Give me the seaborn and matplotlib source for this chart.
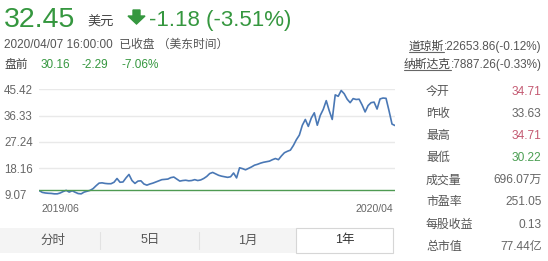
import matplotlib
matplotlib.use('Agg')
import matplotlib.pyplot as plt
import seaborn as sns
import pandas as pd
from matplotlib.patches import Rectangle, Polygon
from matplotlib.lines import Line2D

# ---------------- data ----------------
prices = [10.4, 9.8, 9.6, 9.5, 9.45, 9.3, 9.3, 9.6, 10.1, 10.5,
          9.9, 10.35, 9.85, 9.4, 9.3, 9.9, 10.2, 10.5, 11.1, 12.1,
          13.0, 13.1, 12.9, 12.8, 12.8, 13.3, 14.6, 13.3, 13.4, 14.8,
          16.0, 13.9, 12.9, 13.7, 13.8, 12.7, 12.3, 12.7, 13.0, 13.4,
          13.8, 14.2, 14.3, 14.4, 14.9, 15.1, 14.4, 13.7, 13.9, 14.0,
          13.8, 13.9, 14.2, 13.9, 14.1, 14.6, 15.3, 16.3, 16.7, 16.2,
          15.7, 15.4, 15.2, 15.0, 15.2, 16.5, 14.8, 18.3, 18.0, 17.6,
          18.1, 18.6, 19.2, 19.5, 19.9, 20.2, 20.4, 20.6, 21.1, 21.5,
          21.1, 22.4, 23.5, 24.0, 24.4, 26.0, 28.0, 29.6, 33.0, 35.0,
          32.6, 35.5, 37.3, 33.0, 36.4, 38.5, 41.5, 38.0, 35.0, 43.5,
          43.0, 45.0, 43.9, 42.0, 40.8, 42.2, 41.9, 42.0, 40.0, 37.6,
          39.8, 40.8, 41.0, 38.6, 42.1, 42.4, 42.3, 38.0, 33.4, 32.9]
baseline = 10.6
y_ticks = [9.07, 18.16, 27.24, 36.33, 45.42]
x_tick_idx = [7, 112]
x_tick_labels = ['2019/06', '2020/04']

price_text = '32.45'
currency = '美元'
change_text = '-1.18 (-3.51%)'
time_text = '2020/04/07 16:00:00  已收盘 （美东时间）'
pre_label = '盘前'
pre_values = ['30.16', '-2.29', '-7.06%']
index_names = ['道琼斯', '纳斯达克']
index_values = [':22653.86(-0.12%)', ':7887.26(-0.33%)']
stat_labels = ['今开', '昨收', '最高', '最低', '成交量', '市盈率', '每股收益', '总市值']
stat_values = ['34.71', '33.63', '34.71', '30.22', '696.07万', '251.05', '0.13', '77.44亿']
stat_colors = ['#c45a72', '#666666', '#c45a72', '#4a9e52', '#666666', '#666666', '#666666', '#666666']
tabs = ['分时', '5日', '1月', '1年']

GREEN = '#35973f'

# ---------------- figure ----------------
sns.set_theme(style='white')
plt.rcParams['font.family'] = ['Liberation Sans', 'Noto Sans CJK SC', 'DejaVu Sans']

W, H = 548, 261
fig = plt.figure(figsize=(W / 100, H / 100), dpi=100)
fig.patch.set_facecolor('white')


def fx(px):
    return px / W


def fy(py):
    return 1 - py / H


# ---------------- chart ----------------
ax = fig.add_axes([fx(39.3), fy(194.5), (395 - 39.3) / W, (194.5 - 89.3) / H])
df = pd.DataFrame({'idx': range(len(prices)), 'price': prices})
sns.lineplot(data=df, x='idx', y='price', ax=ax, color='#4a78b5', linewidth=1.2)
ax.axhline(baseline, color='#4e9a52', lw=1)
ax.set_ylim(y_ticks[0], y_ticks[-1])
ax.set_xlim(0, len(prices) - 1)
ax.set_yticks(y_ticks)
ax.set_yticklabels([f'{v:.2f}' for v in y_ticks])
ax.set_xticks(x_tick_idx)
ax.set_xticklabels(x_tick_labels)
ax.grid(axis='y', color='#e9e9e9', lw=1)
ax.grid(axis='x', visible=False)
ax.set_axisbelow(True)
for s in ax.spines.values():
    s.set_visible(False)
ax.set_facecolor('white')
ax.set_xlabel('')
ax.set_ylabel('')
ax.tick_params(axis='y', length=0, pad=25.4, labelsize=8.3, labelcolor='#666666')
for lab in ax.get_yticklabels():
    lab.set_horizontalalignment('left')
ax.tick_params(axis='x', length=0, pad=7, labelsize=7.6, labelcolor='#666666')

# ---------------- header ----------------
fig.text(fx(4), fy(27), price_text, fontsize=20.5, color=GREEN, va='baseline', ha='left')
fig.text(fx(87), fy(25.5), currency, fontsize=9.5, color='#444444', va='baseline', ha='left')
arrow = Polygon([(fx(133), fy(10)), (fx(140), fy(10)), (fx(140), fy(16)), (fx(145), fy(16)),
                 (fx(136.5), fy(24)), (fx(128), fy(16)), (fx(133), fy(16))],
                closed=True, transform=fig.transFigure, color=GREEN)
fig.patches.append(arrow)
fig.text(fx(149), fy(26), change_text, fontsize=16, color=GREEN, va='baseline', ha='left')
fig.text(fx(4), fy(48.3), time_text, fontsize=8.5, color='#555555', va='baseline', ha='left')
fig.text(fx(4), fy(68.3), pre_label, fontsize=8.5, color='#444444', va='baseline', ha='left')
for xpos, val in zip([40.7, 81.7, 121.7], pre_values):
    fig.text(fx(xpos), fy(68.3), val, fontsize=8.5, color=GREEN, va='baseline', ha='left')

# index quotes (right top)
fig.canvas.draw()
renderer = fig.canvas.get_renderer()
for i, (nm, val) in enumerate(zip(index_names, index_values)):
    yb = [50.0, 68.3][i]
    tv = fig.text(fx(541.7), fy(yb), val, fontsize=8.5, color='#555555', va='baseline', ha='right')
    bb = tv.get_window_extent(renderer)
    tn = fig.text(bb.x0 / W, fy(yb), nm, fontsize=8.5, color='#444444', va='baseline', ha='right')
    bn = tn.get_window_extent(renderer)
    fig.lines.append(Line2D([bn.x0 / W, bn.x1 / W], [fy(yb + 2), fy(yb + 2)],
                            transform=fig.transFigure, color='#666666', lw=0.8))

# ---------------- stats panel ----------------
row_y = [91.7, 113.8, 136.0, 158.2, 180.3, 202.4, 224.5, 246.7]
for yy, lab, val, col in zip(row_y, stat_labels, stat_values, stat_colors):
    fig.text(fx(426), fy(yy), lab, fontsize=8.6, color='#555555', va='center', ha='left')
    fig.text(fx(541.7), fy(yy), val, fontsize=8.6, color=col, va='center', ha='right')

# ---------------- tabs ----------------
fig.patches.append(Rectangle((fx(0), fy(253)), fx(296), (253 - 228) / H,
                             transform=fig.transFigure, facecolor='#f4f4f4', edgecolor='none'))
fig.patches.append(Rectangle((fx(296), fy(253)), (393 - 296) / W, (253 - 228) / H,
                             transform=fig.transFigure, facecolor='white', edgecolor='#d6d6d6', lw=0.8))
for sx in [100, 199]:
    fig.lines.append(Line2D([fx(sx), fx(sx)], [fy(232), fy(249)], transform=fig.transFigure,
                            color='#e2e2e2', lw=0.8))
for cx, t in zip([53, 150, 248, 345], tabs):
    fig.text(fx(cx), fy(240.5), t, fontsize=9, color='#555555' if t != '1年' else '#333333',
             va='center', ha='center')

fig.savefig('out.png', dpi=100)
